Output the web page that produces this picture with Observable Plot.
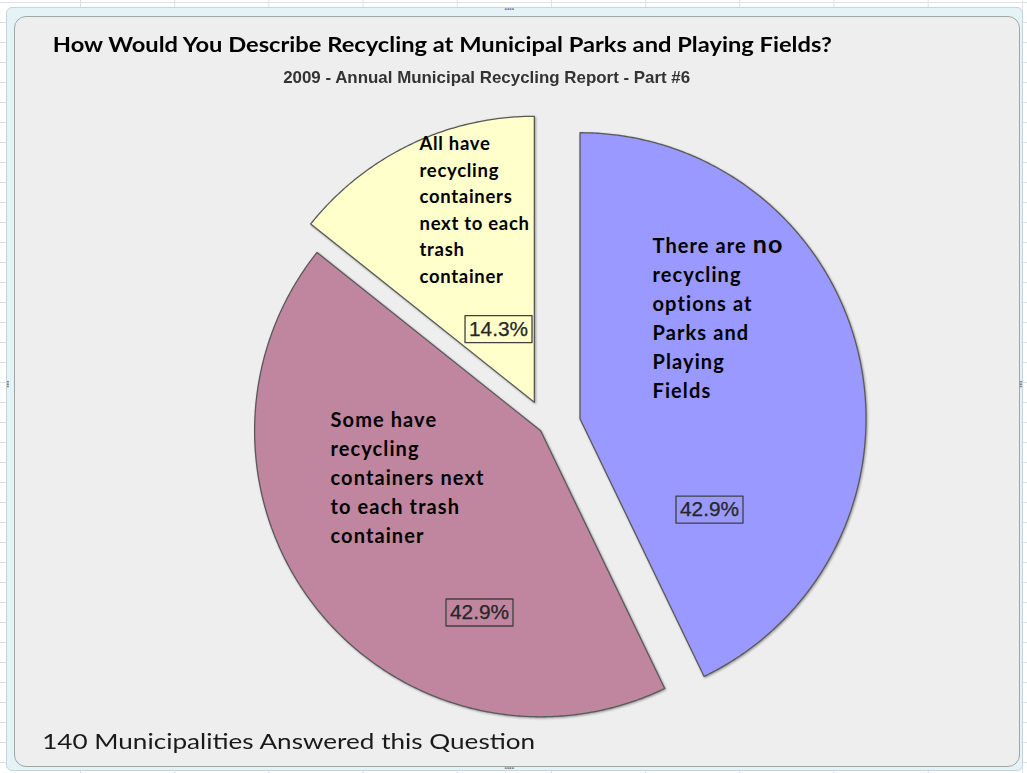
<!DOCTYPE html>
<html><head><meta charset="utf-8">
<script src="https://cdn.jsdelivr.net/npm/d3@7"></script>
<script src="https://cdn.jsdelivr.net/npm/@observablehq/plot@0.6"></script>
<style>
html,body{margin:0;padding:0;background:#fff;}
#page{position:relative;width:1027px;height:773px;overflow:hidden;background-color:#fff;
 background-image:linear-gradient(to right,#DCE1E5 1px,transparent 1px),linear-gradient(to bottom,#DCE1E5 1px,transparent 1px);
 background-size:94.2px 20px;background-position:80px 2px;}
#frame{position:absolute;left:6px;top:7px;width:1015px;height:762px;background:#E6F3F6;border:1px solid #C3D6DB;border-radius:6px;}
#area{position:absolute;left:14px;top:16px;width:1004px;height:749px;background:#EEEEEE;border:1.5px solid #9DA9A9;border-radius:12px;}
.t{position:absolute;white-space:nowrap;line-height:1;transform-origin:center center;}
#title{font-family:Lato,"Open Sans",sans-serif;font-weight:700;font-size:21px;color:#000;}
#subtitle{font-family:"Liberation Sans Narrow","Liberation Sans",Arial,sans-serif;font-weight:700;font-size:16.5px;color:#333;}
#caption{font-family:Lato,"Open Sans",sans-serif;font-weight:400;font-size:22px;color:#1a1a1a;}
#chart{position:absolute;left:0;top:0;}
#chart svg{background:transparent;overflow:visible;}
.h{position:absolute;color:#777;font:bold 9px "DejaVu Sans",sans-serif;letter-spacing:-1px;line-height:1;}
</style></head>
<body>
<div id="page">
 <div id="frame"></div>
 <div id="area"></div>
 <div class="h" style="left:504px;top:3px;">....</div>
 <div class="h" style="left:504px;top:762px;">....</div>
 <div class="h" style="left:5px;top:380px;writing-mode:vertical-rl;">...</div>
 <div class="h" style="left:1018px;top:380px;writing-mode:vertical-rl;">...</div>
 <div class="t" id="title">How Would You Describe Recycling at Municipal Parks and Playing Fields?</div>
 <div class="t" id="subtitle">2009 - Annual Municipal Recycling Report - Part #6</div>
 <div class="t" id="caption">140 Municipalities Answered this Question</div>
 <div id="chart"></div>
</div>
<script>
// ---- data ----
const categories = [
  "There are no recycling options at Parks and Playing Fields",
  "Some have recycling containers next to each trash container",
  "All have recycling containers next to each trash container"
];
const shares = [42.9, 42.9, 14.3];
const pctLabels = ["42.9%", "42.9%", "14.3%"];
const labelLines = [
  ["There are no", "recycling", "options at", "Parks and", "Playing", "Fields"],
  ["Some have", "recycling", "containers next", "to each trash", "container"],
  ["All have", "recycling", "containers", "next to each", "trash", "container"]
];
const sliceColors = ["#9999FF", "#C0869F", "#FFFFCC"];

// ---- layout (unit = pie radius) ----
const W = 1027, H = 773, CX = 545.5, CY = 426, R = 286;
const explode = [0.122, 0.024, 0.094];
// x, y, lineHeight, fontSize, letterSpacing
const catLabelPos = [[0.3724, -0.384, 1.45, 20, 1.1], [-0.7535, 0.171, 1.45, 20, 1.1], [-0.4423, -0.764, 1.44, 18.5, 0.7]];
const pctLabelPos = [[0.5717, 0.292], [-0.2325, 0.652], [-0.166, -0.339]];

const arcs = d3.pie().sort(null).value(d => d)(shares);
const rows = [];
arcs.forEach((a, i) => {
  const mid = (a.startAngle + a.endAngle) / 2;
  const ox = explode[i] * Math.sin(mid), oy = -explode[i] * Math.cos(mid);
  rows.push({slice: i, x: ox, y: oy});
  const n = Math.ceil((a.endAngle - a.startAngle) / (Math.PI / 360));
  for (let k = 0; k <= n; k++) {
    const t = a.startAngle + (a.endAngle - a.startAngle) * k / n;
    rows.push({slice: i, x: ox + Math.sin(t), y: oy - Math.cos(t)});
  }
});

const marks = [];
arcs.forEach((a, i) => {
  marks.push(Plot.line(rows.filter(r => r.slice === i), {
    x: "x", y: "y", fill: sliceColors[i], stroke: "#595959", strokeWidth: 1.3,
    curve: "linear-closed"
  }));
});
categories.forEach((c, i) => {
  const [lx, ly, lh, fs, ls] = catLabelPos[i];
  marks.push(Plot.text([{x: lx, y: ly, t: labelLines[i].join("\n")}], {
    x: "x", y: "y", text: "t", textAnchor: "start", lineAnchor: "middle",
    lineHeight: lh, fontSize: fs, fontWeight: 700,
    fontFamily: "Lato, 'Open Sans', sans-serif", fill: "#000",
    render(index, scales, values, dims, ctx, next) {
      const g = next(index, scales, values, dims, ctx);
      g.setAttribute("letter-spacing", ls);
      return g;
    }
  }));
});
marks.push(Plot.text(pctLabels.map((p, i) => ({x: pctLabelPos[i][0], y: pctLabelPos[i][1], t: p})), {
  x: "x", y: "y", text: "t", fontSize: 19.5, fontFamily: "'Liberation Sans', Arial, sans-serif",
  fill: "#262626", stroke: "#262626", strokeWidth: 0.25
}));

const plot = Plot.plot({
  width: W, height: H, margin: 0,
  x: {domain: [-CX / R, (W - CX) / R], range: [0, W], axis: null},
  y: {domain: [-CY / R, (H - CY) / R], range: [0, H], axis: null},
  style: {background: "transparent", overflow: "visible"},
  marks
});
document.getElementById("chart").appendChild(plot);

// shadow on slices
plot.querySelectorAll('g[aria-label="line"] path').forEach(p => {
  p.style.filter = "drop-shadow(1.5px 1.5px 1px rgba(0,0,0,0.35))";
});
// boxes around percentages, bigger "no"
plot.querySelectorAll("text").forEach(t => {
  const s = t.textContent;
  if (/%$/.test(s)) {
    t.setAttribute("textLength", 59);
    t.setAttribute("lengthAdjust", "spacingAndGlyphs");
    const bb = t.getBBox();
    const r = document.createElementNS("http://www.w3.org/2000/svg", "rect");
    const cx = bb.x + bb.width / 2, cy = bb.y + bb.height / 2 + 0.3;
    r.setAttribute("x", cx - 33.5); r.setAttribute("width", 67);
    r.setAttribute("y", cy - 13.5); r.setAttribute("height", 27);
    r.setAttribute("fill", "none"); r.setAttribute("stroke", "#404040"); r.setAttribute("stroke-width", 1.3);
    if (t.getAttribute("transform")) r.setAttribute("transform", t.getAttribute("transform"));
    t.parentNode.insertBefore(r, t);
  }
  const ts = t.querySelector("tspan");
  if (ts && ts.textContent === "There are no") {
    ts.textContent = "There are ";
    const big = document.createElementNS("http://www.w3.org/2000/svg", "tspan");
    big.setAttribute("font-size", "25"); big.textContent = "no";
    ts.appendChild(big);
  }
});

// fit titles
function place(id, x0, x1, cy) {
  const el = document.getElementById(id);
  const w = el.getBoundingClientRect().width, h = el.getBoundingClientRect().height;
  const k = (x1 - x0) / w;
  el.style.left = ((x0 + x1) / 2 - w / 2) + "px";
  el.style.top = (cy - h / 2) + "px";
  el.style.transform = `scaleX(${k})`;
}
place("title", 53, 832, 43);
place("subtitle", 283, 690, 77);
place("caption", 42, 535, 741);
</script>
</body></html>
